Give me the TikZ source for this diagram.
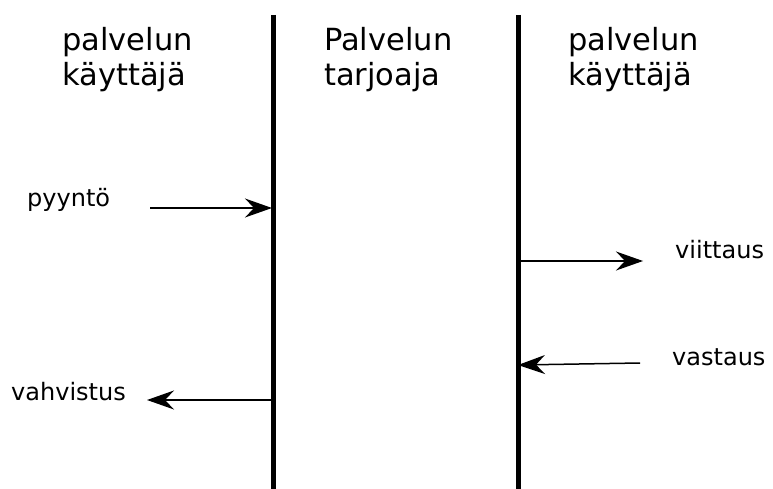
\documentclass[tikz,border=0pt]{standalone}
\usepackage{fontspec}
\setmainfont{DejaVu Sans}
\usetikzlibrary{arrows.meta}

\begin{document}
\begin{tikzpicture}[x=1pt,y=-1pt]
\tikzstyle{head}=[inner sep=0pt,anchor=north west,align=left,font=\fontsize{30.5}{35}\selectfont]
\tikzstyle{lbl}=[inner sep=0pt,anchor=base west,font=\fontsize{24}{28}\selectfont]
\tikzstyle{life}=[line width=5pt]
\tikzstyle{msg}=[line width=1.5pt,-{Stealth[length=27pt,width=19pt,inset=9pt]}]
\useasboundingbox (0,0) rectangle (773,489);
% lifelines
\coordinate (l1top) at (273,15);
\coordinate (l1bot) at (273,489);
\coordinate (l2top) at (518,15);
\coordinate (l2bot) at (518,489);
\draw[life] (l1top) -- (l1bot);
\draw[life] (l2top) -- (l2bot);
% headers
\node[head] (kayttaja1) at (62,27) {palvelun\\käyttäjä};
\node[head] (tarjoaja) at (324,27) {Palvelun\\tarjoaja};
\node[head] (kayttaja2) at (568,27) {palvelun\\käyttäjä};
% message labels
\foreach \name/\point/\txt in {
	pyynto/{27,207}/pyyntö,
	viittaus/{675,258}/viittaus,
	vastaus/{672,365}/vastaus,
	vahvistus/{11,400}/vahvistus}
	\node[lbl] (\name) at (\point) {\txt};
% message ends
\coordinate (pyyntoA) at (150,208);
\coordinate (pyyntoB) at (272,208);
\coordinate (viittausA) at (520,261);
\coordinate (viittausB) at (643,261);
\coordinate (vastausA) at (640,363);
\coordinate (vastausB) at (518,365);
\coordinate (vahvistusA) at (271,400);
\coordinate (vahvistusB) at (147,400);
\draw[msg] (pyyntoA) -- (pyyntoB);
\draw[msg] (viittausA) -- (viittausB);
\draw[msg] (vastausA) -- (vastausB);
\draw[msg] (vahvistusA) -- (vahvistusB);
\end{tikzpicture}
\end{document}
